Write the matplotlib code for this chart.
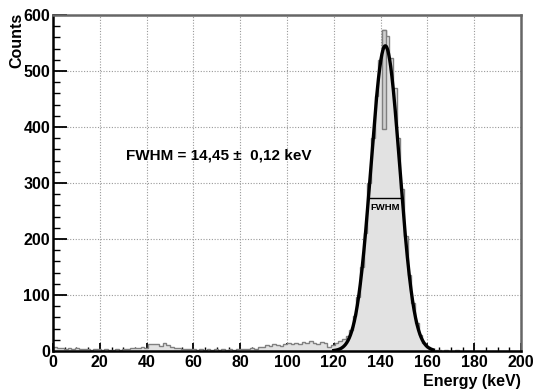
"""Energy spectrum with Gaussian photopeak fit (FWHM annotation)."""

import numpy as np
import matplotlib
matplotlib.use("Agg")
import matplotlib.pyplot as plt
from matplotlib.ticker import MultipleLocator

plt.rcParams["font.family"] = ["Liberation Sans", "DejaVu Sans"]
plt.rcParams["font.weight"] = "bold"

# histogram: 128 bins over 0-200 keV
n_bins = 128
e_min, e_max = 0.0, 200.0
counts = [
    # 0 - 20 keV
    7, 5, 6, 4, 5, 3, 5, 4, 3, 4, 2, 4, 3,
    # 20 - 36 keV
    2, 3, 2, 1, 3, 2, 4, 3, 5, 6,
    # 36 - 50 keV
    5, 7, 6, 12, 13, 13, 9, 15, 10,
    # 50 - 61 keV
    8, 6, 5, 4, 4, 3, 4,
    # 61 - 81 keV
    2, 3, 2, 3, 1, 3, 2, 3, 2, 3, 2, 4, 3,
    # 81 - 91 keV
    4, 3, 5, 4, 8, 7,
    # 91 - 100 keV
    10, 9, 12, 11, 9, 13,
    # 100 - 119 keV
    14, 12, 15, 13, 16, 14, 17, 15, 13, 16, 14, 8,
    # photopeak 119 - 164 keV
    10, 14, 18, 22, 27, 38, 62, 96, 150, 210, 300, 380, 455, 520,
    573, 562, 523, 470, 380, 290, 205, 135, 85, 50, 28, 14, 7, 3, 2,
    # 164 - 200 keV
    1, 0, 1, 0, 0, 1, 0, 0, 0, 0, 0, 0, 0, 0, 0, 0, 0, 0, 0, 0, 0, 0, 0,
]

# thin outlined spike inside the peak (bin 90)
spike_bin = 90
spike_low = 396

# Gaussian fit parameters
fit_amp = 545.0
fit_mean = 142.0
fit_fwhm = 14.45
fit_fwhm_err = 0.12
fit_range = (120.0, 162.5)


def gauss(x, a, mu, sigma):
    return a * np.exp(-0.5 * ((x - mu) / sigma) ** 2)


edges = np.linspace(e_min, e_max, n_bins + 1)
width = edges[1] - edges[0]
sigma = fit_fwhm / (2.0 * np.sqrt(2.0 * np.log(2.0)))

fig = plt.figure(figsize=(5.34, 3.92), dpi=100)
ax = fig.add_axes([0.0993, 0.1046, 0.8764, 0.8571])

ax.stairs(counts, edges, fill=True, color="#e2e2e2", zorder=1)
ax.stairs(counts, edges, color="#808080", lw=1.0, zorder=2)
ax.bar(edges[spike_bin], counts[spike_bin] - spike_low, width=width,
       bottom=spike_low, align="edge", color="#cfcfcf", edgecolor="#808080",
       lw=1.0, zorder=2)

xf = np.linspace(fit_range[0], fit_range[1], 400)
ax.plot(xf, gauss(xf, fit_amp, fit_mean, sigma), color="black", lw=2.4,
        zorder=4)

# FWHM marker
half = fit_amp / 2.0
ax.plot([fit_mean - fit_fwhm / 2, fit_mean + fit_fwhm / 2], [half, half],
        color="black", lw=1.0, zorder=3)
ax.text(fit_mean, half - 8, "FWHM", ha="center", va="top", fontsize=6.8,
        fontweight="bold", zorder=5)

ax.text(71, 350, "FWHM = %s \u00b1  %s keV" % (
    ("%.2f" % fit_fwhm).replace(".", ","),
    ("%.2f" % fit_fwhm_err).replace(".", ",")),
    ha="center", va="center", fontsize=11, fontweight="bold")

ax.set_xlim(e_min, e_max)
ax.set_ylim(0, 600)
ax.xaxis.set_major_locator(MultipleLocator(20))
ax.xaxis.set_minor_locator(MultipleLocator(5))
ax.yaxis.set_major_locator(MultipleLocator(100))
ax.yaxis.set_minor_locator(MultipleLocator(20))
ax.tick_params(axis="x", which="major", direction="in", length=6, width=1.3,
               labelsize=11.5, pad=3)
ax.tick_params(axis="x", which="minor", direction="in", length=3, width=1.0)
ax.tick_params(axis="y", which="major", direction="in", length=10, width=1.3,
               labelsize=11.5, pad=2)
ax.tick_params(axis="y", which="minor", direction="in", length=5, width=1.0)
for lab in ax.get_xticklabels() + ax.get_yticklabels():
    lab.set_fontweight("bold")

ax.grid(True, which="major", color="#999999", ls=(0, (1, 1.5)), lw=0.8)
ax.set_axisbelow(True)

for side in ("left", "bottom"):
    ax.spines[side].set_linewidth(1.8)
    ax.spines[side].set_color("black")
for side in ("top", "right"):
    ax.spines[side].set_linewidth(1.8)
    ax.spines[side].set_color("#666666")

fig.text(0.976, 0.008, "Energy (keV)", ha="right", va="bottom",
         fontsize=11.5, fontweight="bold")
fig.text(0.018, 0.968, "Counts", ha="left", va="top", rotation=90,
         fontsize=11.5, fontweight="bold")

fig.savefig("out.png", dpi=100)
